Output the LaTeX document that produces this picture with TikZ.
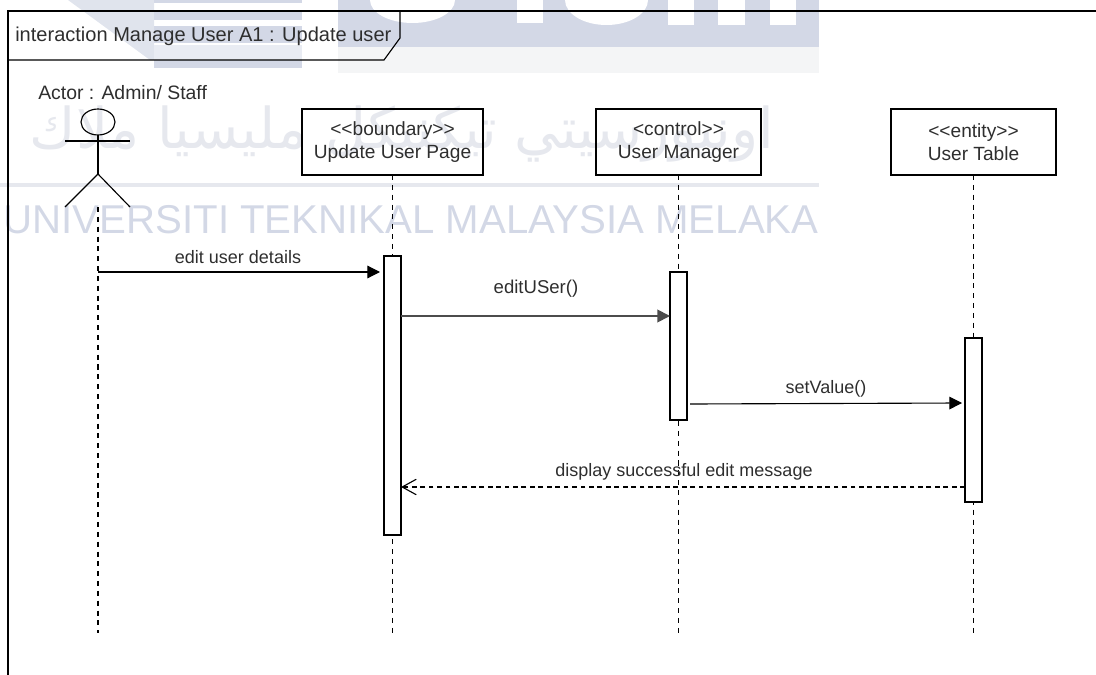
\documentclass[tikz,border=0pt]{standalone}
\usepackage{fontspec}
\setmainfont{Liberation Sans}
\newfontfamily\arabicfont[Script=Arabic]{DejaVu Sans}
\TeXXeTstate=1
\usepackage{xcolor}
\usetikzlibrary{arrows.meta,shapes.geometric}
\definecolor{wmblue}{HTML}{D3D8E6}
\definecolor{wmpale}{HTML}{F4F5F6}
\definecolor{wmtext}{HTML}{E6E8EE}
\definecolor{labelgrey}{HTML}{2E2E2E}
\tikzset{
  lifebox/.style={draw,thick,fill=none,align=center,minimum height=1.65cm,inner sep=0pt,outer sep=0pt,text=labelgrey,font=\fontsize{13.6}{16.4}\selectfont},
  bar/.style={draw,thick,fill=white,minimum width=0.425cm,inner sep=0pt,outer sep=0pt},
  lifeline/.style={thick,dash pattern=on 3.6pt off 3.4pt},
  msg/.style={thick,-{Triangle[length=9pt,width=9pt]}},
  reply/.style={thick,dash pattern=on 3.4pt off 2.6pt,-{Straight Barb[length=10pt,width=11pt]}},
  lbl/.style={text=labelgrey,inner sep=0pt,font=\fontsize{12.8}{16}\selectfont}
}
\begin{document}
\begin{tikzpicture}[x=0.025cm,y=-0.025cm]
\useasboundingbox (0,0) rectangle (1096,675);
\fill[wmblue](338,0)rectangle(819,47);
\fill[wmpale](338,47)rectangle(819,73);
\fill[white](370,0)arc[start angle=180,end angle=360,x radius=42.5,y radius=-23]--cycle;
\fill[white](565,0)arc[start angle=180,end angle=360,x radius=41.5,y radius=-25]--cycle;
\foreach \xa/\xb/\yb in {517/543/23,668/694/25,718/745/25,770/796/25}
  \fill[white](\xa,0)rectangle(\xb,\yb);
\fill[wmblue!70](68,0)--(154,0)--(154,60)--(150,60)--cycle;
\foreach \ya/\yb in {0/3,10/20,26/43,60/68}
  \fill[wmblue](154,\ya)rectangle(302,\yb);
\fill[wmblue!50](154,45)rectangle(302,60);
\fill[wmtext](0,183.5)rectangle(819,187);
\node[text=wmtext,inner sep=0pt] (wmarabic) at (402,134) {\fontsize{40}{46}\arabicfont\beginR اونيورسيتي تيكنيكل مليسيا ملاك\endR};
\node[text=wmblue,inner sep=0pt] (wmname) at (411,220) {\fontsize{28.6}{32}\selectfont UNIVERSITI TEKNIKAL MALAYSIA MELAKA};
\draw[thick](8,675)--(8,11)--(1096,11);
\draw[thick](8,60)--(384,60)--(400,38)--(400,11);
\node[lbl,anchor=west,font=\fontsize{14.25}{16}\selectfont] (title) at (15,36) {interaction Manage User A1 : Update user};
\node[lbl,anchor=west,font=\fontsize{13.8}{16}\selectfont] (actorlabel) at (38,93) {Actor : Admin/ Staff};
\node[draw,thick,ellipse,minimum width=0.85cm,minimum height=0.65cm,inner sep=0pt,outer sep=0pt] (head) at (98,122) {};
\coordinate (hip) at (98,174);
\coordinate (handl) at (65,141);
\coordinate (handr) at (130,141);
\coordinate (footl) at (65,207);
\coordinate (footr) at (130,207);
\coordinate (actortop) at (98,207);
\coordinate (lineend) at (98,633);
\draw[thick](head.south)--(hip);
\draw[thick](handl)--(handr);
\draw[thick](footl)--(hip)--(footr);
\node[lifebox,minimum width=4.525cm] (page) at (392.5,142) {{<}{<}boundary{>}{>}\\Update User Page};
\node[lifebox,minimum width=4.125cm] (manager) at (678.5,142) {{<}control{>}{>}\\User Manager};
\node[lifebox,minimum width=4.125cm] (table) at (973.5,142) {{<}{<}entity{>}{>}\\User Table};
\draw[lifeline](actortop)--(lineend);
\draw[lifeline](page.south)--(page.south|-lineend);
\draw[lifeline](manager.south)--(manager.south|-lineend);
\draw[lifeline](table.south)--(table.south|-lineend);
\node[bar,minimum height=6.975cm] (pagebar) at (392.5,395.5) {};
\node[bar,minimum height=3.7cm] (managerbar) at (678.5,346) {};
\node[bar,minimum height=4.1cm] (tablebar) at (973.5,420) {};
\coordinate (msgastart) at (98,272);
\coordinate (msgaend) at (380,272);
\coordinate (msgcstart) at (690,404);
\coordinate (msgcend) at (962,403);
\coordinate (msgb) at (0,316);
\coordinate (msgd) at (0,487);
\draw[msg](msgastart)--(msgaend);
\draw[msg,line width=1.3pt,draw=black!70](pagebar.east|-msgb)--(managerbar.west|-msgb);
\draw[msg](msgcstart)--(msgcend);
\draw[reply](tablebar.west|-msgd)--(pagebar.east|-msgd);
\node[lbl] (msgalabel) at (238,257) {edit user details};
\node[lbl,font=\fontsize{13.2}{16}\selectfont] (msgblabel) at (536,289) {editUSer()};
\node[lbl] (msgclabel) at (826,389) {setValue()};
\node[lbl] (msgdlabel) at (684,472) {display successful edit message};
\end{tikzpicture}
\end{document}
